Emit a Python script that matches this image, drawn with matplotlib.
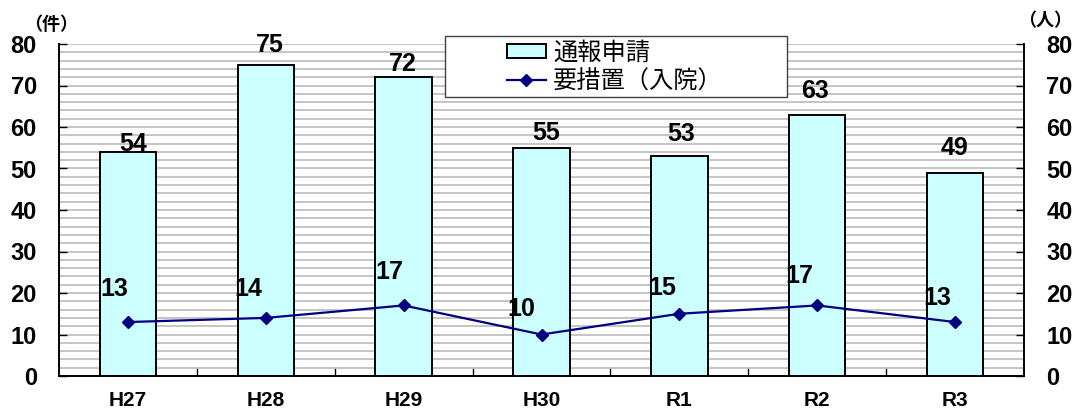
import numpy as np
import matplotlib
matplotlib.use("Agg")
import matplotlib.pyplot as plt
from matplotlib.patches import Rectangle, Patch
from matplotlib.lines import Line2D

# データ
years = ["H27", "H28", "H29", "H30", "R1", "R2", "R3"]
reports = [54, 75, 72, 55, 53, 63, 49]      # 通報申請 (件)
admitted = [13, 14, 17, 10, 15, 17, 13]     # 要措置(入院) (人)
y_ticks = [0, 10, 20, 30, 40, 50, 60, 70, 80]
legend_labels = ["通報申請", "要措置（入院）"]

# ラベルのずらし量 (pixels)
bar_lbl_off = [(5, 8), (4, 20), (-1, 13), (5, 15), (2, 22), (-2, 24), (-1, 25)]
line_lbl_off = [(-14, 33), (-17, 29), (-14, 33), (-20, 26), (-17, 26), (-18, 29), (-18, 24)]

plt.rcParams["font.family"] = ["Liberation Sans", "Noto Sans CJK JP", "DejaVu Sans"]
num_font = dict(fontsize=18, fontweight="bold")

W, H = 1081, 412
fig = plt.figure(figsize=(W / 100, H / 100), dpi=100)
fig.subplots_adjust(left=59 / W, right=1024 / W, bottom=1 - 376 / H, top=1 - 44 / H)
ax = fig.add_subplot(111)
ax2 = ax.twinx()

x = np.arange(len(years))
ax.bar(x, reports, width=0.41, color="#CCFFFF", edgecolor="black", linewidth=1.4, zorder=3)
ax2.plot(x, admitted, color="#000080", linewidth=1.6, marker="D", markersize=6.5, zorder=4)

for a in (ax, ax2):
    a.set_ylim(0, 80)
    a.set_xlim(-0.5, len(years) - 0.5)
    a.set_yticks(y_ticks)
    a.tick_params(axis="y", direction="in", length=6, width=1, pad=16, labelsize=17)
    for lbl in a.get_yticklabels():
        lbl.set_fontweight("bold")
    a.spines["top"].set_visible(False)
    for s in ("left", "right", "bottom"):
        a.spines[s].set_linewidth(1.2)

# 補助目盛の罫線 (2刻み)
ax.set_yticks(np.arange(0, 81, 2), minor=True)
ax.tick_params(axis="y", which="minor", length=0)
ax.grid(axis="y", which="both", color="#bbbbbb", linewidth=1.2)
ax.set_axisbelow(True)

ax.set_xticks(x)
ax.set_xticklabels(years, fontsize=15, fontweight="bold")
ax.set_xticks(np.arange(0.5, len(years) - 1, 1), minor=True)
ax.tick_params(axis="x", which="major", length=0, pad=11)
ax.tick_params(axis="x", which="minor", direction="in", length=6, width=1)
ax2.tick_params(axis="x", which="both", length=0)

for i, v in enumerate(reports):
    ax2.annotate(str(v), (x[i], v), xytext=bar_lbl_off[i], textcoords="offset pixels",
                 ha="center", va="center", **num_font)
for i, v in enumerate(admitted):
    ax2.annotate(str(v), (x[i], v), xytext=line_lbl_off[i], textcoords="offset pixels",
                 ha="center", va="center", **num_font)

# 単位
fig.text(51 / W, 1 - 25 / H, "（件）", ha="center", va="center", fontsize=13,
         fontweight="bold", family=["Noto Sans CJK JP"])
fig.text(1045 / W, 1 - 21 / H, "（人）", ha="center", va="center", fontsize=13,
         fontweight="bold", family=["Noto Sans CJK JP"])

# 凡例
box = Rectangle((445 / W, 1 - 97 / H), 342 / W, 61 / H, transform=fig.transFigure,
                facecolor="white", edgecolor="#404040", linewidth=1, zorder=2)
fig.add_artist(box)
handles = [Patch(facecolor="#CCFFFF", edgecolor="black", linewidth=1.4),
           Line2D([], [], color="#000080", linewidth=1.6, marker="D", markersize=6.5)]
fig.legend(handles, legend_labels, loc="center", bbox_to_anchor=(615 / W, 1 - 67 / H),
           frameon=False, prop={"family": ["Noto Sans CJK JP"], "size": 17.5},
           handlelength=1.6, handleheight=0.5, handletextpad=0.3, labelspacing=0.1,
           borderpad=0)

fig.savefig("out.png", dpi=100)
